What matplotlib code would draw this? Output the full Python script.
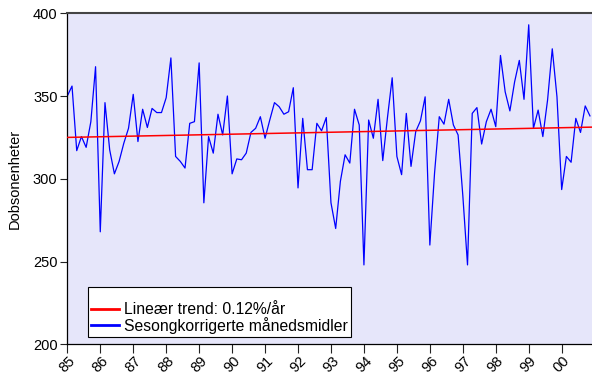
# -*- coding: utf-8 -*-
"""Ozon (Dobson) — sesongkorrigerte månedsmidler 1985-2000 med lineær trend."""
import matplotlib
matplotlib.use("Agg")
import matplotlib.pyplot as plt
import numpy as np

plt.rcParams["font.family"] = ["Liberation Sans", "DejaVu Sans"]

# 7 målinger per år, første verdi januar 1985
PER_YEAR = 7
START_YEAR = 1985
ozone = [
    350, 356, 317, 325.5, 319, 334.5, 367.7, 268, 346, 317.5, 303, 310.5, 321.5, 330.5,
    351, 322.5, 342, 331, 342.5, 340, 340, 349, 373, 313.5, 310.5, 306.5, 333.5, 334.5,
    370, 285.5, 325.5, 315.5, 339, 326.5, 350, 303, 312, 311.5, 315.5, 328, 330.5, 337.5,
    324.5, 335.5, 346, 343.5, 339, 340.5, 355, 294.5, 336.5, 305.5, 305.5, 333.5, 329,
    337, 285.5, 270, 298.5, 314.5, 309.5, 342, 332.5, 248, 335.5, 324.5, 348, 311, 337,
    361, 313.5, 302.5, 339.5, 307.5, 328.5, 335, 349.5, 260, 303.5, 337.5, 333, 348,
    332.5, 326.5, 290, 248, 339.5, 343, 321, 334.5, 342, 331.5, 374.5, 352.5, 341, 358.5,
    371.5, 348, 393, 330.5, 341.5, 325.5, 347.5, 378.5, 349.5, 293.5, 313.5, 310, 336.5,
    328, 344, 338,
]

# trendlinje: startnivå og årlig endring i prosent
TREND_START = 325.0
TREND_PCT = 0.12

tick_years = list(range(1985, 2001))
tick_labels = [f"{y % 100:02d}" for y in tick_years]


def main():
    t = START_YEAR + np.arange(len(ozone)) / PER_YEAR
    t_end = 2000.92
    trend_t = np.array([START_YEAR, t_end])
    trend = TREND_START * (1 + TREND_PCT / 100 * (trend_t - START_YEAR))

    fig = plt.figure(figsize=(5.92, 3.83), dpi=100)
    ax = fig.add_axes([0.1137, 0.1008, 0.8863, 0.8647])
    ax.set_facecolor("#E6E6FA")

    ax.plot(trend_t, trend, color="#FF0000", lw=1.1, label=f"Lineær trend: {TREND_PCT:.2f}%/år", zorder=3)
    ax.plot(t, ozone, color="#0000FF", lw=0.9, label="Sesongkorrigerte månedsmidler", zorder=2)

    ax.set_xlim(START_YEAR, t_end)
    ax.set_ylim(200, 400)
    ax.set_yticks([200, 250, 300, 350, 400])
    ax.set_xticks(tick_years)
    ax.set_xticklabels(tick_labels, rotation=45, ha="center")
    ax.tick_params(axis="x", length=6.5, width=0.8, labelsize=10.5, pad=0, color="#222222")
    ax.tick_params(axis="y", length=5, width=0.8, labelsize=10.5, pad=2, color="#222222")
    ax.set_ylabel("Dobsonenheter", fontsize=10.5, labelpad=8)

    ax.spines["right"].set_visible(False)
    ax.spines["top"].set_color("#444444")
    ax.spines["top"].set_linewidth(1.5)
    for s in ("left", "bottom"):
        ax.spines[s].set_color("black")
        ax.spines[s].set_linewidth(0.9)

    leg = ax.legend(loc="lower left", bbox_to_anchor=(0.0395, 0.022), borderaxespad=0,
                    title=" ", fontsize=11.3, title_fontsize=9.5, fancybox=False,
                    framealpha=1, edgecolor="black", handlelength=1.8, handletextpad=0.3,
                    labelspacing=0, borderpad=0.2)
    leg.get_frame().set_linewidth(0.8)
    for h in leg.get_lines():
        h.set_linewidth(2)

    fig.savefig("out.png", dpi=100)
    plt.close(fig)


if __name__ == "__main__":
    main()
